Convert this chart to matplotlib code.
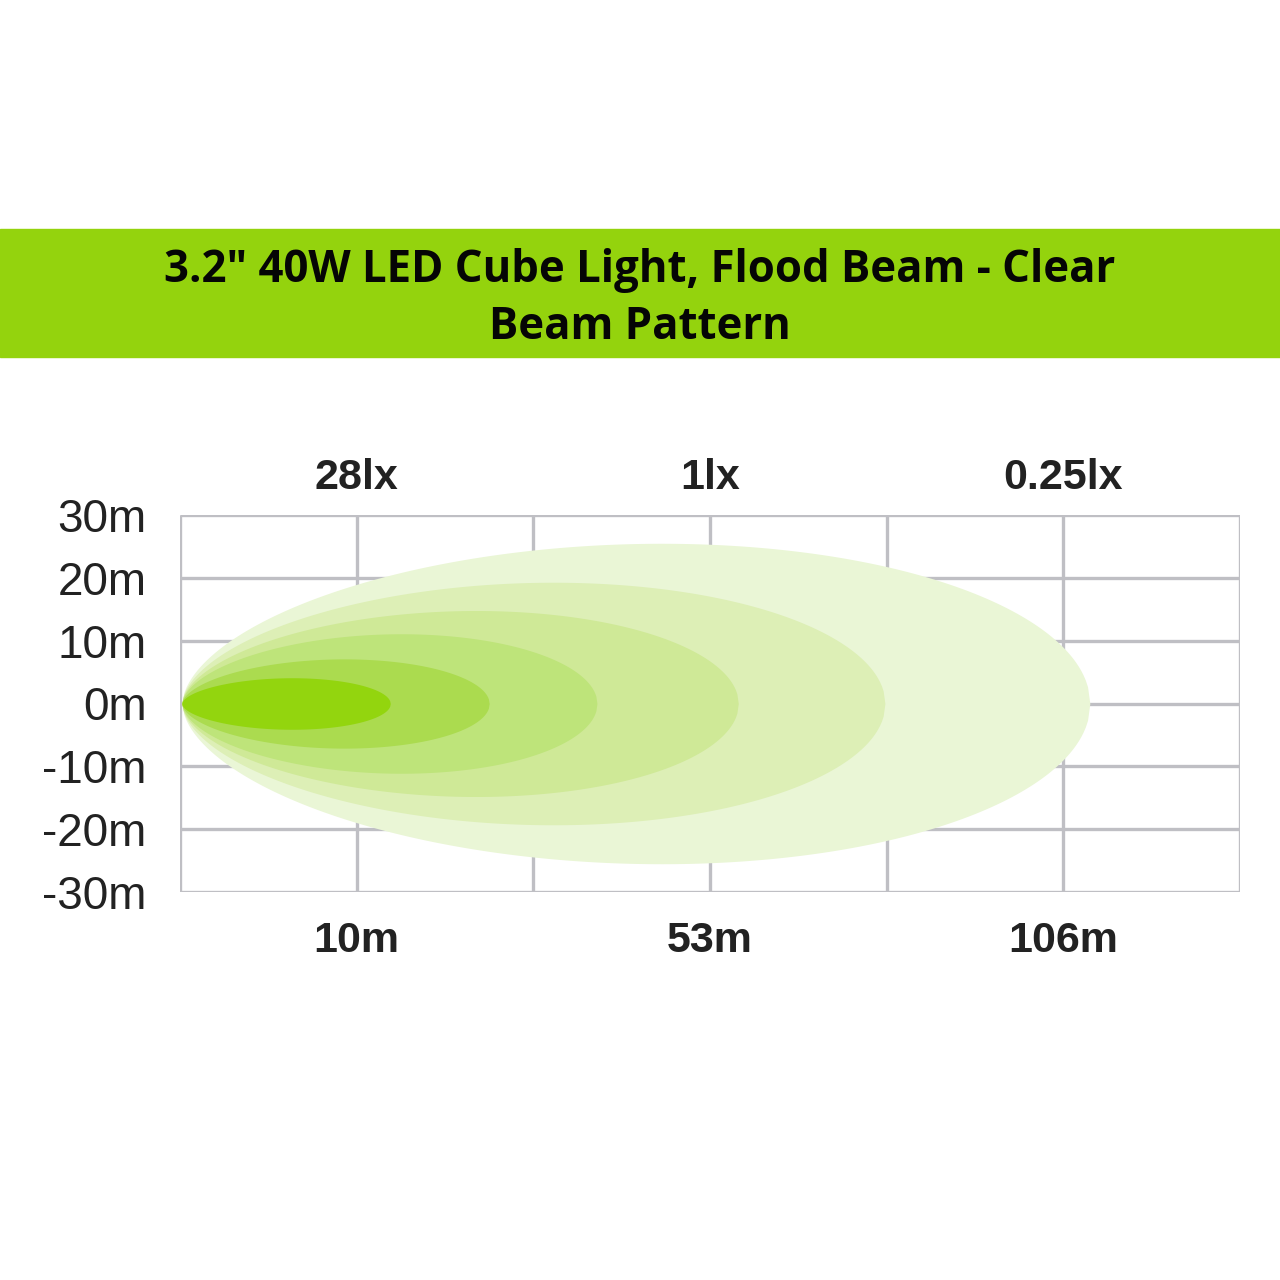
import numpy as np
import matplotlib
matplotlib.use("Agg")
import matplotlib.pyplot as plt

# beam contours, outermost first: reach in grid columns, half width in metres
beam_reach = [5.14, 3.98, 3.15, 2.35, 1.74, 1.18]
beam_half_width = [25.5, 19.3, 14.8, 11.1, 7.1, 4.1]
beam_colors = ['#eaf6d6', '#ddefb6', '#cfe997', '#bee47a', '#abdb4f', '#93d50e']

y_ticks = [30, 20, 10, 0, -10, -20, -30]
y_labels = ['30m', '20m', '10m', '0m', '-10m', '-20m', '-30m']
dist_pos = [1, 3, 5]
dist_labels = ['10m', '53m', '106m']
lux_labels = ['28lx', '1lx', '0.25lx']
n_cols = 6

title = '3.2" 40W LED Cube Light, Flood Beam - Clear\nBeam Pattern'

GRID = '#bfbfc4'
NARROW = ['Liberation Sans Narrow', 'Liberation Sans', 'DejaVu Sans']

fig = plt.figure(figsize=(12.8, 12.8), dpi=100)

# title banner
fig.patches.append(plt.Rectangle((0, 1 - 357 / 1280), 1, 128 / 1280,
                                 transform=fig.transFigure, color='#94d30d', zorder=0))
fig.text(0.5, 1 - 299 / 1280, title, ha='center', va='center', fontsize=31.5,
         fontweight='bold', family=['Open Sans', 'DejaVu Sans'], color='#050505',
         linespacing=1.38)

ax = fig.add_axes([180 / 1280, 1 - 892 / 1280, 1060 / 1280, 377 / 1280])
ax.set_xlim(0, n_cols)
ax.set_ylim(-30, 30)

# grid
ax.vlines(range(n_cols + 1), -30, 30, color=GRID, lw=2.4, zorder=1)
ax.hlines(y_ticks, 0, n_cols, color=GRID, lw=2.4, zorder=1)
for s in ax.spines.values():
    s.set_visible(False)

# beam shapes
t = np.linspace(0, 1, 400)
a, b = 0.56, 0.5
peak = (a / (a + b)) ** a * (b / (a + b)) ** b
prof = t ** a * (1 - t) ** b / peak
for L, H, c in zip(beam_reach, beam_half_width, beam_colors):
    xs = 0.01 + t * L
    ax.fill_between(xs, -H * prof, H * prof, color=c, lw=0, zorder=2)

ax.set_yticks(y_ticks, y_labels, fontsize=33, family=NARROW, color='#222222')
ax.set_xticks(dist_pos, dist_labels, fontsize=31, fontweight='bold', family=NARROW,
              color='#222222')
ax.tick_params(length=0)
ax.tick_params(axis='y', pad=24)
ax.tick_params(axis='x', pad=21)

top = ax.secondary_xaxis('top')
top.set_xticks(dist_pos, lux_labels, fontsize=31, fontweight='bold', family=NARROW,
               color='#222222')
top.tick_params(length=0, pad=12)
for s in top.spines.values():
    s.set_visible(False)

fig.savefig('out.png', dpi=100, facecolor='white')
